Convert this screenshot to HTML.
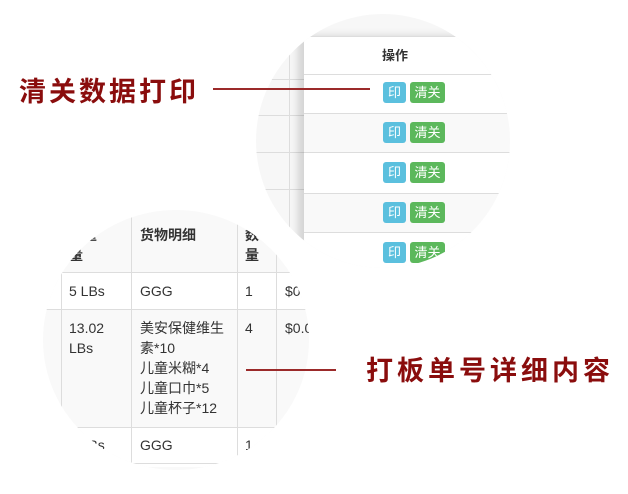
<!DOCTYPE html>
<html><head><meta charset="utf-8"><style>
*{margin:0;padding:0;box-sizing:border-box}
body{width:628px;height:494px;background:#fff;position:relative;overflow:hidden;font-family:"Liberation Sans","Noto Sans CJK SC",sans-serif}
.abs{position:absolute}
.circ{position:absolute;border-radius:50%;overflow:hidden;background:#f7f7f7}
.lbl{position:absolute;color:#8a0d0d;font-weight:bold;font-size:27px;letter-spacing:3px;line-height:30px;font-family:"Noto Sans CJK SC",sans-serif;white-space:nowrap}
.hl{position:absolute;height:2px;background:#9b2a2a}
.btn{position:absolute;height:21px;border-radius:3px;color:#fff;font-size:13px;line-height:21px;text-align:center}
.b1{background:#5bc0de;width:23px}
.b2{background:#5cb85c;width:35px}
.t{position:absolute;font-size:14px;color:#333;line-height:20px;white-space:nowrap}
</style></head><body>

<div class="circ" style="left:256px;top:14px;width:254px;height:254px">
  <div class="abs" style="left:33px;top:0;width:1px;height:254px;background:#ddd"></div>
  <div class="abs" style="left:0;top:65px;width:48px;height:1px;background:#ddd"></div>
  <div class="abs" style="left:0;top:101px;width:48px;height:1px;background:#ddd"></div>
  <div class="abs" style="left:0;top:138px;width:48px;height:1px;background:#ddd"></div>
  <div class="abs" style="left:0;top:175px;width:48px;height:1px;background:#ddd"></div>
  <div class="abs" style="left:48px;top:22px;width:220px;height:240px;background:#fff;box-shadow:-6px 0 8px rgba(0,0,0,0.15);border-top:1px solid #ddd">
    <div class="t" style="left:78px;top:9px;font-weight:bold;font-size:13px">操作</div>
    <div class="abs" style="left:0;top:37px;width:220px;height:1px;background:#ddd"></div>
    <div class="abs" style="left:0;top:76px;width:220px;height:40px;background:#f9f9f9;border-top:1px solid #ddd;border-bottom:1px solid #ddd"></div>
    <div class="abs" style="left:0;top:156px;width:220px;height:40px;background:#f9f9f9;border-top:1px solid #ddd;border-bottom:1px solid #ddd"></div>
  </div>
</div>
<div class="btn b1" style="left:383px;top:82px">印</div><div class="btn b2" style="left:410px;top:82px">清关</div>
<div class="btn b1" style="left:383px;top:122px">印</div><div class="btn b2" style="left:410px;top:122px">清关</div>
<div class="btn b1" style="left:383px;top:162px">印</div><div class="btn b2" style="left:410px;top:162px">清关</div>
<div class="btn b1" style="left:383px;top:202px">印</div><div class="btn b2" style="left:410px;top:202px">清关</div>
<div style="position:absolute;left:256px;top:14px;width:254px;height:254px;border-radius:50%;overflow:hidden;pointer-events:none">
  <div class="btn b1" style="left:127px;top:228px">印</div><div class="btn b2" style="left:154px;top:228px">清关</div>
</div>

<div class="circ" style="left:43px;top:210px;width:266px;height:260px;background:#f9f9f9;box-shadow:0 0 0 3px #fff">
  <div class="abs" style="left:0;top:62px;width:266px;height:37px;background:#fff"></div>
  <div class="abs" style="left:0;top:217px;width:266px;height:40px;background:#fff"></div>
  <div class="abs" style="left:18px;top:0;width:1px;height:260px;background:#ddd"></div>
  <div class="abs" style="left:88px;top:0;width:1px;height:260px;background:#ddd"></div>
  <div class="abs" style="left:194px;top:0;width:1px;height:260px;background:#ddd"></div>
  <div class="abs" style="left:233px;top:0;width:1px;height:260px;background:#ddd"></div>
  <div class="abs" style="left:0;top:62px;width:266px;height:1px;background:#ddd"></div>
  <div class="abs" style="left:0;top:99px;width:266px;height:1px;background:#ddd"></div>
  <div class="abs" style="left:0;top:217px;width:266px;height:1px;background:#ddd"></div>
  <div class="abs" style="left:0;top:253px;width:266px;height:1px;background:#ddd"></div>
  <div class="t" style="left:26px;top:15px;font-weight:bold">毛重<br>量</div>
  <div class="t" style="left:97px;top:15px;font-weight:bold">货物明细</div>
  <div class="t" style="left:202px;top:15px;font-weight:bold">数<br>量</div>
  <div class="t" style="left:26px;top:71px">5 LBs</div>
  <div class="t" style="left:97px;top:71px">GGG</div>
  <div class="t" style="left:202px;top:71px">1</div>
  <div class="t" style="left:242px;top:71px">$0</div>
  <div class="t" style="left:26px;top:108px">13.02<br>LBs</div>
  <div class="t" style="left:97px;top:108px">美安保健维生<br>素*10<br>儿童米糊*4<br>儿童口巾*5<br>儿童杯子*12</div>
  <div class="t" style="left:202px;top:108px">4</div>
  <div class="t" style="left:242px;top:108px">$0.0</div>
  <div class="t" style="left:26px;top:225px">5 LBs</div>
  <div class="t" style="left:97px;top:225px">GGG</div>
  <div class="t" style="left:202px;top:225px">1</div>
</div>

<div class="lbl" style="left:19px;top:75px">清关数据打印</div>
<div class="hl" style="left:213px;top:88px;width:157px"></div>
<div class="lbl" style="left:366px;top:354px;letter-spacing:4px">打板单号详细内容</div>
<div class="hl" style="left:246px;top:369px;width:90px"></div>
</body></html>
